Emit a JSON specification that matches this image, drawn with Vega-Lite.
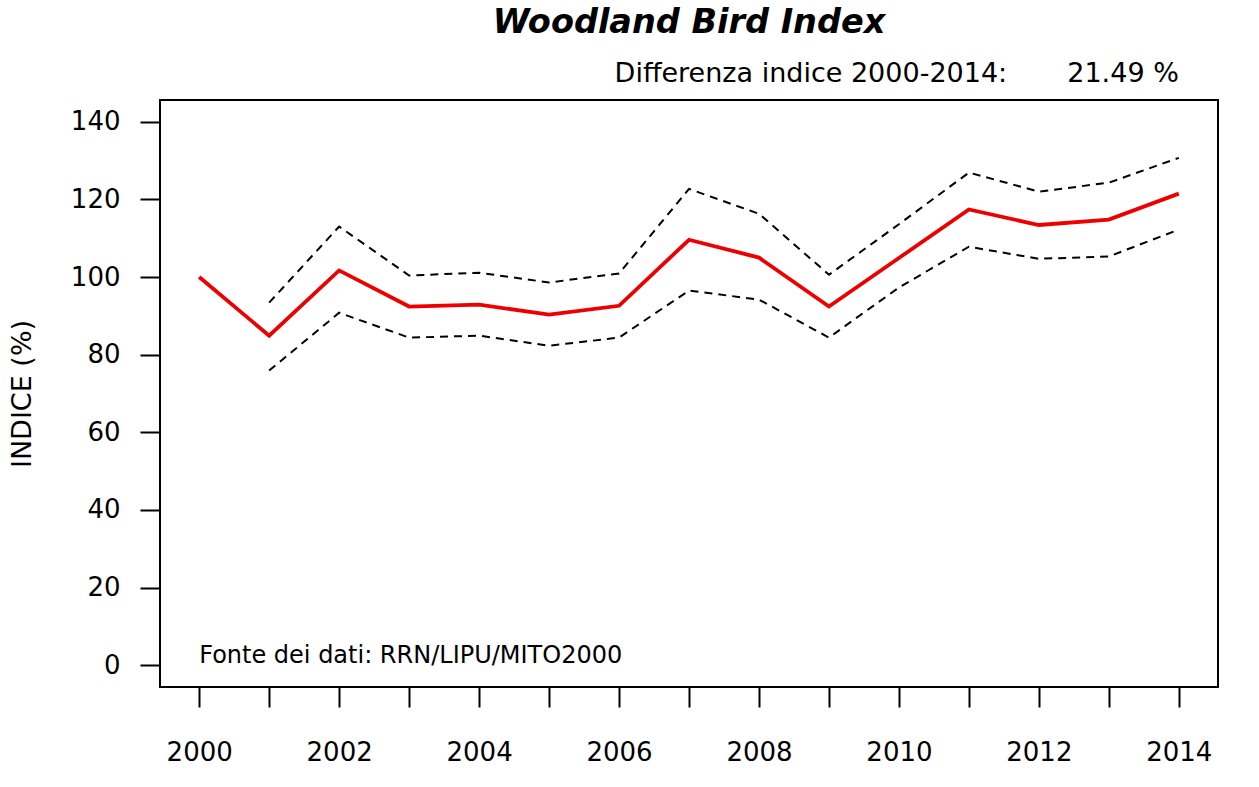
{
  "$schema": "https://vega.github.io/schema/vega-lite/v6.json",
  "width": 1058,
  "height": 587,
  "autosize": {"type": "none"},
  "padding": {"left": 160, "top": 100, "right": 41, "bottom": 100},
  "background": "white",
  "config": {
    "font": "DejaVu Sans",
    "view": {"stroke": "black", "strokeWidth": 2},
    "axis": {"grid": false, "domain": false, "tickColor": "black", "tickWidth": 2, "tickSize": 20, "labelColor": "black", "labelFont": "DejaVu Sans", "labelFontSize": 26, "titleFont": "DejaVu Sans", "titleFontSize": 26, "titleFontWeight": "normal", "titleColor": "black"}
  },
  "data": {"values": [
    {"anno": 2000, "serie": "indice", "valore": 100},
    {"anno": 2001, "serie": "indice", "valore": 84.9},
    {"anno": 2002, "serie": "indice", "valore": 101.7},
    {"anno": 2003, "serie": "indice", "valore": 92.4},
    {"anno": 2004, "serie": "indice", "valore": 92.9},
    {"anno": 2005, "serie": "indice", "valore": 90.3},
    {"anno": 2006, "serie": "indice", "valore": 92.6},
    {"anno": 2007, "serie": "indice", "valore": 109.6},
    {"anno": 2008, "serie": "indice", "valore": 105.0},
    {"anno": 2009, "serie": "indice", "valore": 92.4},
    {"anno": 2010, "serie": "indice", "valore": 104.9},
    {"anno": 2011, "serie": "indice", "valore": 117.4},
    {"anno": 2012, "serie": "indice", "valore": 113.4},
    {"anno": 2013, "serie": "indice", "valore": 114.8},
    {"anno": 2014, "serie": "indice", "valore": 121.49},
    {"anno": 2001, "serie": "sup", "valore": 93.4},
    {"anno": 2002, "serie": "sup", "valore": 113.0},
    {"anno": 2003, "serie": "sup", "valore": 100.4},
    {"anno": 2004, "serie": "sup", "valore": 101.1},
    {"anno": 2005, "serie": "sup", "valore": 98.6},
    {"anno": 2006, "serie": "sup", "valore": 100.9},
    {"anno": 2007, "serie": "sup", "valore": 122.7},
    {"anno": 2008, "serie": "sup", "valore": 116.3},
    {"anno": 2009, "serie": "sup", "valore": 100.6},
    {"anno": 2010, "serie": "sup", "valore": 113.6},
    {"anno": 2011, "serie": "sup", "valore": 126.9},
    {"anno": 2012, "serie": "sup", "valore": 122.0},
    {"anno": 2013, "serie": "sup", "valore": 124.3},
    {"anno": 2014, "serie": "sup", "valore": 130.7},
    {"anno": 2001, "serie": "inf", "valore": 75.9},
    {"anno": 2002, "serie": "inf", "valore": 90.8},
    {"anno": 2003, "serie": "inf", "valore": 84.4},
    {"anno": 2004, "serie": "inf", "valore": 84.9},
    {"anno": 2005, "serie": "inf", "valore": 82.3},
    {"anno": 2006, "serie": "inf", "valore": 84.4},
    {"anno": 2007, "serie": "inf", "valore": 96.5},
    {"anno": 2008, "serie": "inf", "valore": 94.2},
    {"anno": 2009, "serie": "inf", "valore": 84.4},
    {"anno": 2010, "serie": "inf", "valore": 97.3},
    {"anno": 2011, "serie": "inf", "valore": 107.8},
    {"anno": 2012, "serie": "inf", "valore": 104.7},
    {"anno": 2013, "serie": "inf", "valore": 105.3},
    {"anno": 2014, "serie": "inf", "valore": 112.2}
  ]},
  "encoding": {
    "x": {"field": "anno", "type": "quantitative", "scale": {"domain": [1999.44, 2014.56], "nice": false, "zero": false},
      "axis": {"title": null, "values": [2000,2001,2002,2003,2004,2005,2006,2007,2008,2009,2010,2011,2012,2013,2014], "format": "d", "labelExpr": "datum.value % 2 == 0 ? datum.label : ''", "labelPadding": 32, "labelOverlap": false}},
    "y": {"field": "valore", "type": "quantitative", "scale": {"domain": [-5.6, 145.6], "nice": false, "zero": false},
      "axis": {"title": "INDICE (%)", "titleFontSize": 27, "values": [0,20,40,60,80,100,120,140], "labelPadding": 20, "titlePadding": 34}}
  },
  "layer": [
    {
      "transform": [{"filter": "datum.serie != 'indice'"}],
      "mark": {"type": "line", "color": "black", "strokeWidth": 2, "strokeDash": [8, 6]},
      "encoding": {"detail": {"field": "serie"}}
    },
    {
      "transform": [{"filter": "datum.serie == 'indice'"}],
      "mark": {"type": "line", "color": "#ee0000", "strokeWidth": 3.8}
    },
    {
      "transform": [{"filter": "datum.serie == 'indice' && datum.anno == 2000"}],
      "mark": {"type": "text", "align": "left", "baseline": "alphabetic", "fontSize": 24, "font": "DejaVu Sans", "color": "black"},
      "encoding": {"x": {"datum": 2000}, "y": {"datum": 0.6}, "text": {"value": "Fonte dei dati: RRN/LIPU/MITO2000"}}
    },
    {
      "transform": [{"filter": "datum.serie == 'indice' && datum.anno == 2000"}],
      "mark": {"type": "text", "align": "right", "baseline": "alphabetic", "fontSize": 27, "font": "DejaVu Sans", "color": "black", "clip": false},
      "encoding": {"x": {"datum": 2014}, "y": {"datum": 150.2}, "text": {"value": "Differenza indice 2000-2014:\u00a0\u00a0\u00a0\u00a0\u00a0\u00a0\u00a021.49 %"}}
    },
    {
      "transform": [{"filter": "datum.serie == 'indice' && datum.anno == 2000"}],
      "mark": {"type": "text", "align": "center", "baseline": "alphabetic", "fontSize": 33.5, "font": "DejaVu Sans", "fontStyle": "italic", "fontWeight": "bold", "color": "black", "clip": false},
      "encoding": {"x": {"datum": 2007}, "y": {"datum": 162.8}, "text": {"value": "Woodland Bird Index"}}
    }
  ]
}
